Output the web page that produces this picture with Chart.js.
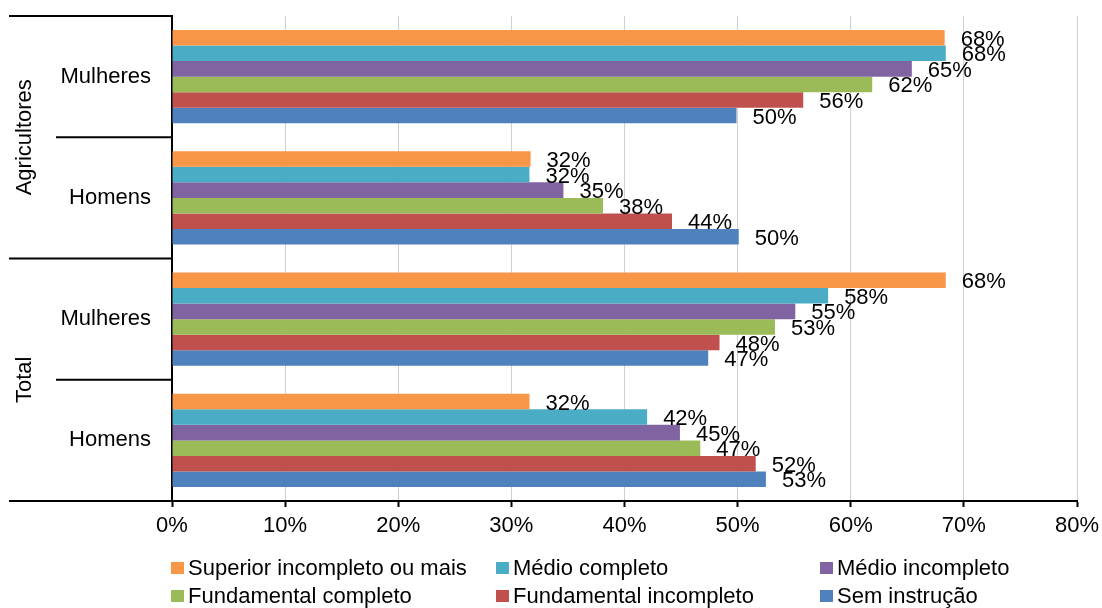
<!DOCTYPE html>
<html>
<head>
<meta charset="utf-8">
<script src="https://cdn.jsdelivr.net/npm/chart.js@4/dist/chart.umd.min.js"></script>
<style>
  body { margin: 0; background: #fff; }
  #wrap { width: 1102px; height: 608px; position: relative; }
</style>
</head>
<body>
<div id="wrap"><canvas id="chart" width="1102" height="608"></canvas></div>
<script>
const categories = ['Mulheres', 'Homens', 'Mulheres', 'Homens'];
const groups = ['Agricultores', 'Total'];
const xTicks = [0, 10, 20, 30, 40, 50, 60, 70, 80];

const seriesNames = [
  'Superior incompleto ou mais',
  'Médio completo',
  'Médio incompleto',
  'Fundamental completo',
  'Fundamental incompleto',
  'Sem instrução'
];
const colors = ['#F79646', '#4BACC6', '#8064A2', '#9BBB59', '#C0504D', '#4F81BD'];

// percent values, per category (Agric. Mulheres, Agric. Homens, Total Mulheres, Total Homens)
const superior = [68.3, 31.7, 68.4, 31.6];
const medioCompleto = [68.4, 31.6, 58.0, 42.0];
const medioIncompleto = [65.4, 34.6, 55.1, 44.9];
const fundCompleto = [61.9, 38.1, 53.3, 46.7];
const fundIncompleto = [55.8, 44.2, 48.4, 51.6];
const semInstrucao = [49.9, 50.1, 47.4, 52.5];

const seriesData = [superior, medioCompleto, medioIncompleto, fundCompleto, fundIncompleto, semInstrucao];

const FONT = '"Liberation Sans", Arial, sans-serif';
const FS = 22;

// value labels, outer group labels, separators and legend
const extras = {
  id: 'extras',
  afterDatasetsDraw(chart) {
    const c = chart.ctx;
    c.save();
    c.font = FS + 'px ' + FONT;
    c.fillStyle = '#000';
    c.textBaseline = 'middle';
    c.textAlign = 'left';
    chart.data.datasets.forEach((ds, i) => {
      chart.getDatasetMeta(i).data.forEach((bar, j) => {
        c.fillText(Math.round(ds.data[j]) + '%', bar.x + 16, bar.y + 2);
      });
    });
    c.restore();
  },
  afterDraw(chart) {
    const c = chart.ctx;
    const y = chart.scales.y;
    const area = chart.chartArea;
    const left = area.left;
    const mid = (i) => (y.getPixelForTick(i) + y.getPixelForTick(i + 1)) / 2;

    c.save();
    c.strokeStyle = '#000';
    c.lineWidth = 2;
    // outer separators
    [area.top, mid(1), area.bottom].forEach(py => {
      c.beginPath(); c.moveTo(9, py); c.lineTo(left, py); c.stroke();
    });
    // inner separators
    [mid(0), mid(2)].forEach(py => {
      c.beginPath(); c.moveTo(56, py); c.lineTo(left, py); c.stroke();
    });

    // outer group labels
    c.font = FS + 'px ' + FONT;
    c.fillStyle = '#000';
    c.textAlign = 'center';
    c.textBaseline = 'middle';
    groups.forEach((g, k) => {
      const cy = mid(k * 2);
      c.save();
      c.translate(25, cy);
      c.rotate(-Math.PI / 2);
      c.fillText(g, 0, 0);
      c.restore();
    });

    // legend, 3 columns x 2 rows
    const colX = [171, 496, 820];
    const rowY = [568, 596];
    c.textAlign = 'left';
    chart.data.datasets.forEach((ds, i) => {
      const x = colX[i % 3];
      const yy = rowY[Math.floor(i / 3)];
      c.fillStyle = ds.backgroundColor;
      c.fillRect(x, yy - 6, 13, 12);
      c.fillStyle = '#000';
      c.fillText(ds.label, x + 17, yy + 1);
    });
    c.restore();
  }
};

new Chart(document.getElementById('chart'), {
  type: 'bar',
  data: {
    labels: categories,
    datasets: seriesNames.map((name, i) => ({
      label: name,
      data: seriesData[i],
      backgroundColor: colors[i],
      borderWidth: 0,
      categoryPercentage: 0.77,
      barPercentage: 1.0
    }))
  },
  options: {
    indexAxis: 'y',
    responsive: false,
    animation: false,
    layout: { padding: { top: 16, right: 25, left: 0, bottom: 0 } },
    plugins: {
      legend: { display: false },
      tooltip: { enabled: false }
    },
    scales: {
      x: {
        min: 0,
        max: 80,
        afterFit: (s) => { s.height = 107; s.paddingLeft = 0; s.paddingRight = 0; },
        afterBuildTicks: (s) => { s.ticks = xTicks.map(v => ({ value: v })); },
        ticks: {
          callback: (v) => v + '%',
          color: '#000',
          font: { family: FONT, size: FS },
          padding: 6,
          maxRotation: 0
        },
        grid: {
          color: '#D0D0D0',
          lineWidth: 1,
          drawTicks: true,
          tickLength: 6,
          tickColor: '#000',
          tickWidth: 2
        },
        border: { display: true, color: '#000', width: 2 }
      },
      y: {
        afterFit: (s) => { s.width = 172; s.paddingTop = 0; s.paddingBottom = 0; },
        ticks: {
          color: '#000',
          font: { family: FONT, size: FS },
          padding: 21
        },
        grid: { display: false, drawTicks: false },
        border: { display: true, color: '#000', width: 2 }
      }
    }
  },
  plugins: [extras]
});
</script>
</body>
</html>
